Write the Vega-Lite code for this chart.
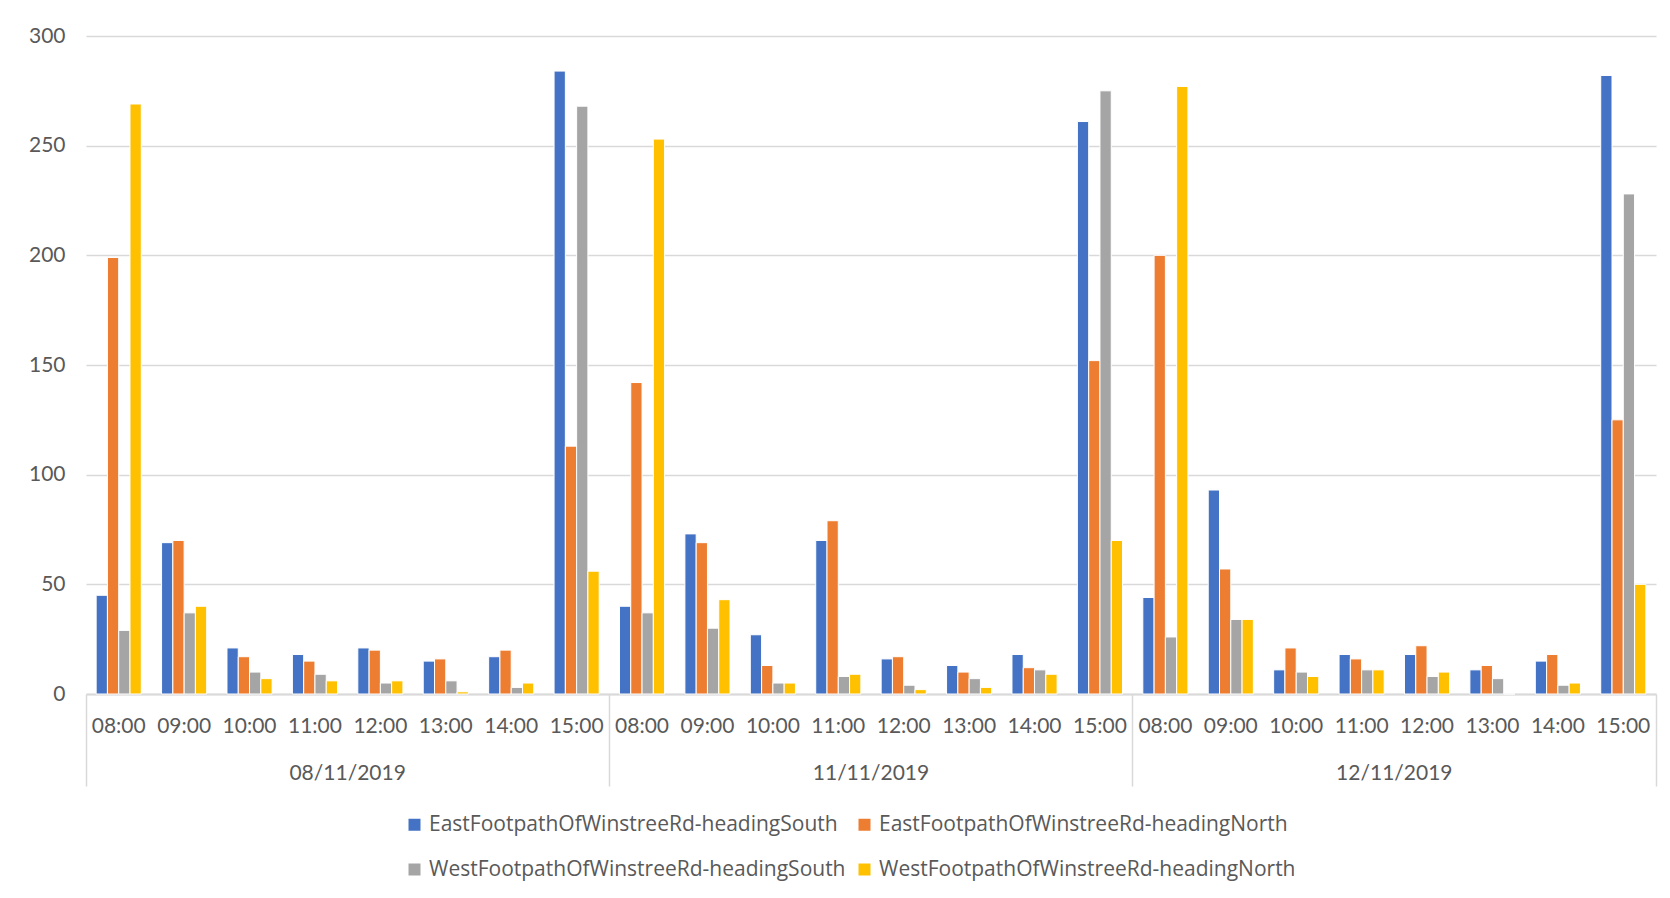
{
  "$schema": "https://vega.github.io/schema/vega-lite/v6.json",
  "autosize": {"type": "none"},
  "width": 1570,
  "height": 658,
  "padding": {"left": 86, "top": 36, "right": 14, "bottom": 204},
  "background": "white",
  "config": {
    "view": {"stroke": null},
    "font": "Lato",
    "axis": {"labelFont": "Lato", "labelColor": "#595959", "labelFontSize": 21}
  },
  "data": {
    "values": [
      {"slot": "08/11/2019 08:00", "EastFootpathOfWinstreeRd-headingSouth": 45, "EastFootpathOfWinstreeRd-headingNorth": 199, "WestFootpathOfWinstreeRd-headingSouth": 29, "WestFootpathOfWinstreeRd-headingNorth": 269},
      {"slot": "08/11/2019 09:00", "EastFootpathOfWinstreeRd-headingSouth": 69, "EastFootpathOfWinstreeRd-headingNorth": 70, "WestFootpathOfWinstreeRd-headingSouth": 37, "WestFootpathOfWinstreeRd-headingNorth": 40},
      {"slot": "08/11/2019 10:00", "EastFootpathOfWinstreeRd-headingSouth": 21, "EastFootpathOfWinstreeRd-headingNorth": 17, "WestFootpathOfWinstreeRd-headingSouth": 10, "WestFootpathOfWinstreeRd-headingNorth": 7},
      {"slot": "08/11/2019 11:00", "EastFootpathOfWinstreeRd-headingSouth": 18, "EastFootpathOfWinstreeRd-headingNorth": 15, "WestFootpathOfWinstreeRd-headingSouth": 9, "WestFootpathOfWinstreeRd-headingNorth": 6},
      {"slot": "08/11/2019 12:00", "EastFootpathOfWinstreeRd-headingSouth": 21, "EastFootpathOfWinstreeRd-headingNorth": 20, "WestFootpathOfWinstreeRd-headingSouth": 5, "WestFootpathOfWinstreeRd-headingNorth": 6},
      {"slot": "08/11/2019 13:00", "EastFootpathOfWinstreeRd-headingSouth": 15, "EastFootpathOfWinstreeRd-headingNorth": 16, "WestFootpathOfWinstreeRd-headingSouth": 6, "WestFootpathOfWinstreeRd-headingNorth": 1},
      {"slot": "08/11/2019 14:00", "EastFootpathOfWinstreeRd-headingSouth": 17, "EastFootpathOfWinstreeRd-headingNorth": 20, "WestFootpathOfWinstreeRd-headingSouth": 3, "WestFootpathOfWinstreeRd-headingNorth": 5},
      {"slot": "08/11/2019 15:00", "EastFootpathOfWinstreeRd-headingSouth": 284, "EastFootpathOfWinstreeRd-headingNorth": 113, "WestFootpathOfWinstreeRd-headingSouth": 268, "WestFootpathOfWinstreeRd-headingNorth": 56},
      {"slot": "11/11/2019 08:00", "EastFootpathOfWinstreeRd-headingSouth": 40, "EastFootpathOfWinstreeRd-headingNorth": 142, "WestFootpathOfWinstreeRd-headingSouth": 37, "WestFootpathOfWinstreeRd-headingNorth": 253},
      {"slot": "11/11/2019 09:00", "EastFootpathOfWinstreeRd-headingSouth": 73, "EastFootpathOfWinstreeRd-headingNorth": 69, "WestFootpathOfWinstreeRd-headingSouth": 30, "WestFootpathOfWinstreeRd-headingNorth": 43},
      {"slot": "11/11/2019 10:00", "EastFootpathOfWinstreeRd-headingSouth": 27, "EastFootpathOfWinstreeRd-headingNorth": 13, "WestFootpathOfWinstreeRd-headingSouth": 5, "WestFootpathOfWinstreeRd-headingNorth": 5},
      {"slot": "11/11/2019 11:00", "EastFootpathOfWinstreeRd-headingSouth": 70, "EastFootpathOfWinstreeRd-headingNorth": 79, "WestFootpathOfWinstreeRd-headingSouth": 8, "WestFootpathOfWinstreeRd-headingNorth": 9},
      {"slot": "11/11/2019 12:00", "EastFootpathOfWinstreeRd-headingSouth": 16, "EastFootpathOfWinstreeRd-headingNorth": 17, "WestFootpathOfWinstreeRd-headingSouth": 4, "WestFootpathOfWinstreeRd-headingNorth": 2},
      {"slot": "11/11/2019 13:00", "EastFootpathOfWinstreeRd-headingSouth": 13, "EastFootpathOfWinstreeRd-headingNorth": 10, "WestFootpathOfWinstreeRd-headingSouth": 7, "WestFootpathOfWinstreeRd-headingNorth": 3},
      {"slot": "11/11/2019 14:00", "EastFootpathOfWinstreeRd-headingSouth": 18, "EastFootpathOfWinstreeRd-headingNorth": 12, "WestFootpathOfWinstreeRd-headingSouth": 11, "WestFootpathOfWinstreeRd-headingNorth": 9},
      {"slot": "11/11/2019 15:00", "EastFootpathOfWinstreeRd-headingSouth": 261, "EastFootpathOfWinstreeRd-headingNorth": 152, "WestFootpathOfWinstreeRd-headingSouth": 275, "WestFootpathOfWinstreeRd-headingNorth": 70},
      {"slot": "12/11/2019 08:00", "EastFootpathOfWinstreeRd-headingSouth": 44, "EastFootpathOfWinstreeRd-headingNorth": 200, "WestFootpathOfWinstreeRd-headingSouth": 26, "WestFootpathOfWinstreeRd-headingNorth": 277},
      {"slot": "12/11/2019 09:00", "EastFootpathOfWinstreeRd-headingSouth": 93, "EastFootpathOfWinstreeRd-headingNorth": 57, "WestFootpathOfWinstreeRd-headingSouth": 34, "WestFootpathOfWinstreeRd-headingNorth": 34},
      {"slot": "12/11/2019 10:00", "EastFootpathOfWinstreeRd-headingSouth": 11, "EastFootpathOfWinstreeRd-headingNorth": 21, "WestFootpathOfWinstreeRd-headingSouth": 10, "WestFootpathOfWinstreeRd-headingNorth": 8},
      {"slot": "12/11/2019 11:00", "EastFootpathOfWinstreeRd-headingSouth": 18, "EastFootpathOfWinstreeRd-headingNorth": 16, "WestFootpathOfWinstreeRd-headingSouth": 11, "WestFootpathOfWinstreeRd-headingNorth": 11},
      {"slot": "12/11/2019 12:00", "EastFootpathOfWinstreeRd-headingSouth": 18, "EastFootpathOfWinstreeRd-headingNorth": 22, "WestFootpathOfWinstreeRd-headingSouth": 8, "WestFootpathOfWinstreeRd-headingNorth": 10},
      {"slot": "12/11/2019 13:00", "EastFootpathOfWinstreeRd-headingSouth": 11, "EastFootpathOfWinstreeRd-headingNorth": 13, "WestFootpathOfWinstreeRd-headingSouth": 7, "WestFootpathOfWinstreeRd-headingNorth": 0},
      {"slot": "12/11/2019 14:00", "EastFootpathOfWinstreeRd-headingSouth": 15, "EastFootpathOfWinstreeRd-headingNorth": 18, "WestFootpathOfWinstreeRd-headingSouth": 4, "WestFootpathOfWinstreeRd-headingNorth": 5},
      {"slot": "12/11/2019 15:00", "EastFootpathOfWinstreeRd-headingSouth": 282, "EastFootpathOfWinstreeRd-headingNorth": 125, "WestFootpathOfWinstreeRd-headingSouth": 228, "WestFootpathOfWinstreeRd-headingNorth": 50}
    ]
  },
  "transform": [
    {"fold": ["EastFootpathOfWinstreeRd-headingSouth", "EastFootpathOfWinstreeRd-headingNorth", "WestFootpathOfWinstreeRd-headingSouth", "WestFootpathOfWinstreeRd-headingNorth"], "as": ["series", "count"]}
  ],
  "layer": [
    {
      "mark": {"type": "bar", "stroke": "white", "strokeWidth": 1},
      "encoding": {
        "x": {
          "field": "slot", "type": "nominal", "sort": "ascending",
          "scale": {"paddingInner": 0, "paddingOuter": 0},
          "axis": {
            "orient": "bottom", "title": null, "labelAngle": 0,
            "labelExpr": "split(datum.value, ' ')[1]",
            "ticks": false, "labelPadding": 21,
            "domainColor": "#d9d9d9", "domainWidth": 2
          }
        },
        "xOffset": {
          "field": "series", "type": "nominal",
          "sort": ["EastFootpathOfWinstreeRd-headingSouth", "EastFootpathOfWinstreeRd-headingNorth", "WestFootpathOfWinstreeRd-headingSouth", "WestFootpathOfWinstreeRd-headingNorth"],
          "scale": {"paddingInner": 0, "paddingOuter": 0.9}
        },
        "y": {
          "field": "count", "type": "quantitative",
          "scale": {"domain": [0, 300], "nice": false},
          "axis": {
            "title": null, "values": [0, 50, 100, 150, 200, 250, 300],
            "domain": false, "ticks": false, "labelPadding": 21,
            "gridColor": "#d9d9d9", "gridWidth": 1.5
          }
        },
        "color": {
          "field": "series", "type": "nominal",
          "sort": ["EastFootpathOfWinstreeRd-headingSouth", "EastFootpathOfWinstreeRd-headingNorth", "WestFootpathOfWinstreeRd-headingSouth", "WestFootpathOfWinstreeRd-headingNorth"],
          "scale": {"range": ["#4472C4", "#ED7D31", "#A5A5A5", "#FFC000"]},
          "legend": {
            "title": null, "orient": "none", "legendX": 318, "legendY": 778,
            "direction": "horizontal", "columns": 2,
            "symbolType": "square", "symbolSize": 144, "symbolStrokeWidth": 0,
            "labelFont": "Open Sans", "labelFontSize": 21, "labelColor": "#595959",
            "labelOffset": 4, "columnPadding": 8, "rowPadding": 23, "labelLimit": 600
          }
        }
      }
    },
    {
      "mark": {"type": "bar", "opacity": 0},
      "encoding": {
        "x": {
          "field": "slot", "type": "nominal", "sort": "ascending",
          "axis": {
            "orient": "bottom", "title": null, "labelAngle": 0,
            "domain": false, "bandPosition": 1, "tickExtra": true,
            "tickSize": 92, "tickWidth": 1.5, "tickColor": "#d9d9d9",
            "tickOpacity": {"condition": {"test": "isValid(datum.extra) || (isValid(datum.value) && indexof(datum.value, '15:00') >= 0)", "value": 1}, "value": 0},
            "labelPadding": -24, "labelOffset": 32.7,
            "labelExpr": "isValid(datum.value) && indexof(datum.value, '11:00') >= 0 ? split(datum.value, ' ')[0] : ''"
          }
        }
      }
    }
  ],
  "resolve": {"axis": {"x": "independent"}}
}
